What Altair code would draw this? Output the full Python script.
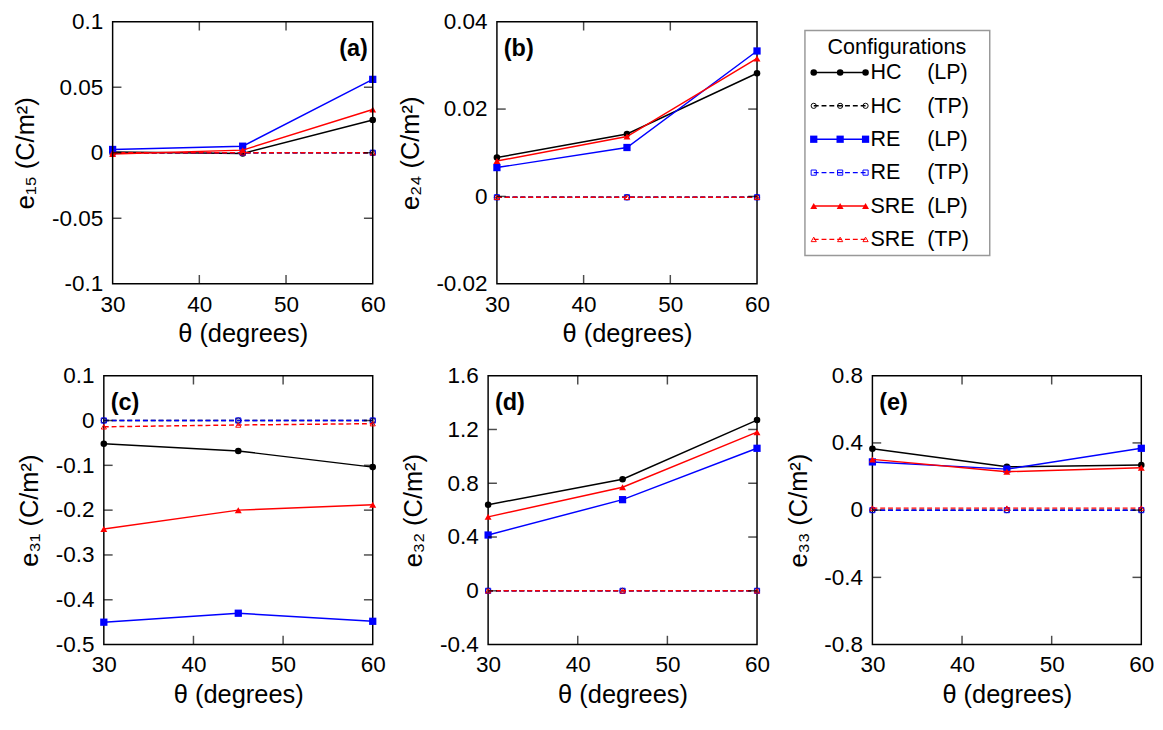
import altair as alt
import pandas as pd

# ---------------- data ----------------
theta = [30, 45, 60]
series_names = ["HC (LP)", "HC (TP)", "RE (LP)", "RE (TP)", "SRE (LP)", "SRE (TP)"]

a_HC_LP = [0.0005, -0.0005, 0.025]
a_HC_TP = [0.0, 0.0, 0.0]
a_RE_LP = [0.0025, 0.005, 0.056]
a_RE_TP = [0.0, 0.0, 0.0]
a_SRE_LP = [-0.001, 0.002, 0.033]
a_SRE_TP = [0.0, 0.0, 0.0]

b_HC_LP = [0.0089, 0.0143, 0.0282]
b_HC_TP = [-0.0002, -0.0002, -0.0002]
b_RE_LP = [0.0066, 0.0112, 0.0333]
b_RE_TP = [-0.0002, -0.0002, -0.0002]
b_SRE_LP = [0.0081, 0.0137, 0.0316]
b_SRE_TP = [-0.0002, -0.0002, -0.0002]

c_HC_LP = [-0.052, -0.068, -0.104]
c_HC_TP = [0.0, 0.0, 0.0]
c_RE_LP = [-0.45, -0.43, -0.448]
c_RE_TP = [0.0, 0.0, 0.0]
c_SRE_LP = [-0.242, -0.2, -0.188]
c_SRE_TP = [-0.014, -0.01, -0.007]

d_HC_LP = [0.64, 0.83, 1.27]
d_HC_TP = [0.0, 0.0, 0.0]
d_RE_LP = [0.415, 0.678, 1.06]
d_RE_TP = [0.0, 0.0, 0.0]
d_SRE_LP = [0.55, 0.77, 1.18]
d_SRE_TP = [0.0, 0.0, 0.0]

e_HC_LP = [0.365, 0.258, 0.268]
e_HC_TP = [0.0, 0.0, 0.0]
e_RE_LP = [0.287, 0.244, 0.368]
e_RE_TP = [0.0, 0.0, 0.0]
e_SRE_LP = [0.302, 0.229, 0.252]
e_SRE_TP = [0.012, 0.012, 0.012]

x_ticks = [30, 40, 50, 60]
a_yticks = [-0.1, -0.05, 0, 0.05, 0.1]
b_yticks = [-0.02, 0, 0.02, 0.04]
c_yticks = [-0.5, -0.4, -0.3, -0.2, -0.1, 0, 0.1]
d_yticks = [-0.4, 0, 0.4, 0.8, 1.2, 1.6]
e_yticks = [-0.8, -0.4, 0, 0.4, 0.8]

legend_names = ["HC", "HC", "RE", "RE", "SRE", "SRE"]
legend_tags = ["(LP)", "(TP)", "(LP)", "(TP)", "(LP)", "(TP)"]

# ---------------- style ----------------
FONT = "Liberation Sans"
LABEL_SIZE = 23
TITLE_SIZE = 26
LEG_SIZE = 22
COLORS = {"HC": "#000000", "RE": "#0000ff", "SRE": "#ff0000"}
SHAPES = {"HC": "circle", "RE": "square", "SRE": "triangle-up"}
LP_SIZE = {"HC": 45, "RE": 55, "SRE": 50}
TP_SIZE = 28
DASH = [5, 3]


def series_layers(vals_by_series, xenc, yenc):
    layers = []
    for name in series_names:
        base, kind = name.split(" ")
        vals = vals_by_series[name]
        df = pd.DataFrame({"theta": theta, "value": vals})
        col = COLORS[base]
        if kind == "(LP)":
            line = alt.Chart(df).mark_line(color=col, strokeWidth=1.5)
            pts = alt.Chart(df).mark_point(shape=SHAPES[base], filled=True, color=col,
                                           size=LP_SIZE[base], opacity=1)
        else:
            line = alt.Chart(df).mark_line(color=col, strokeWidth=1.5, strokeDash=DASH)
            pts = alt.Chart(df).mark_point(shape=SHAPES[base], filled=False, color=col,
                                           size=TP_SIZE, opacity=1, strokeWidth=1)
        layers.append(line.encode(x=xenc, y=yenc))
        layers.append(pts.encode(x=xenc, y=yenc))
    return layers


def make_panel(vals_by_series, ydom, yticks, ytitle, tag, tag_right, w, h, lead=0):
    # lead: blank pixels left of the frame (frame drawn as a rect through the scales)
    xscale = alt.Scale(domain=[30, 60], nice=False, zero=False)
    if lead:
        xscale = alt.Scale(domain=[30, 60], nice=False, zero=False, range=[lead, w])
    xenc = alt.X("theta:Q", scale=xscale,
                 axis=alt.Axis(values=x_ticks, title="θ (degrees)",
                               labelExpr="'' + datum.value"))
    yaxis = alt.Axis(values=yticks, title=ytitle, labelExpr="'' + datum.value")
    if lead:
        yaxis = alt.Axis(values=yticks, title=ytitle, labelExpr="'' + datum.value",
                         offset=-lead)
    yenc = alt.Y("value:Q", scale=alt.Scale(domain=ydom, nice=False, zero=False), axis=yaxis)
    layers = series_layers(vals_by_series, xenc, yenc)

    yin = yticks[1:-1]
    xin = x_ticks[1:-1]
    tick_style = dict(color="black", thickness=1.5, size=9)
    left = alt.Chart(pd.DataFrame({"theta": [30] * len(yin), "value": yin})).mark_tick(
        orient="horizontal", xOffset=4.5, **tick_style).encode(x=xenc, y=yenc)
    right = alt.Chart(pd.DataFrame({"theta": [60] * len(yin), "value": yin})).mark_tick(
        orient="horizontal", xOffset=-4.5, **tick_style).encode(x=xenc, y=yenc)
    top = alt.Chart(pd.DataFrame({"theta": xin, "value": [ydom[1]] * len(xin)})).mark_tick(
        orient="vertical", yOffset=4.5, **tick_style).encode(x=xenc, y=yenc)
    bottom = alt.Chart(pd.DataFrame({"theta": xin, "value": [ydom[0]] * len(xin)})).mark_tick(
        orient="vertical", yOffset=-4.5, **tick_style).encode(x=xenc, y=yenc)
    layers += [left, right, top, bottom]

    if lead:
        frame = alt.Chart(pd.DataFrame({"theta": [30], "theta2": [60],
                                        "value": [ydom[0]], "value2": [ydom[1]]})).mark_rect(
            fillOpacity=0, stroke="black", strokeWidth=1.5
        ).encode(x=xenc, x2="theta2:Q", y=yenc, y2="value2:Q")
        layers.append(frame)

    lab = alt.Chart(pd.DataFrame({"t": [tag]})).mark_text(
        font=FONT, fontSize=24, fontWeight="bold", color="black",
        align="right" if tag_right else "left", baseline="middle"
    ).encode(text="t:N", x=alt.value(w - 5 if tag_right else 7), y=alt.value(28))
    layers.append(lab)
    ch = alt.layer(*layers).properties(width=w, height=h)
    if lead:
        ch = ch.properties(view=alt.ViewBackground(strokeOpacity=0))
    return ch


def vals(prefix):
    g = globals()
    return {
        "HC (LP)": g[prefix + "_HC_LP"], "HC (TP)": g[prefix + "_HC_TP"],
        "RE (LP)": g[prefix + "_RE_LP"], "RE (TP)": g[prefix + "_RE_TP"],
        "SRE (LP)": g[prefix + "_SRE_LP"], "SRE (TP)": g[prefix + "_SRE_TP"],
    }


pa = make_panel(vals("a"), [-0.1, 0.1], a_yticks, "e₁₅ (C/m²)", "(a)", True, 275, 268, lead=9)
pb = make_panel(vals("b"), [-0.02, 0.04], b_yticks, "e₂₄ (C/m²)", "(b)", False, 266, 268)
pc = make_panel(vals("c"), [-0.5, 0.1], c_yticks, "e₃₁ (C/m²)", "(c)", False, 275, 275)
pd_ = make_panel(vals("d"), [-0.4, 1.6], d_yticks, "e₃₂ (C/m²)", "(d)", False, 275, 275)
pe = make_panel(vals("e"), [-0.8, 0.8], e_yticks, "e₃₃ (C/m²)", "(e)", False, 275, 275)

# ---------------- legend panel ----------------
LEG_TOP = 9
yleg = alt.Y("series:N", scale=alt.Scale(type="point", domain=series_names,
                                         padding=1.275, align=0.76), axis=None)
leg_layers = [
    alt.Chart(pd.DataFrame({"s": [0]})).mark_rect(
        fillOpacity=0, stroke="#999999", strokeWidth=1.5
    ).encode(x=alt.value(0), x2=alt.value(189), y=alt.value(LEG_TOP), y2=alt.value(LEG_TOP + 230))
]
for name in series_names:
    base, kind = name.split(" ")
    df1 = pd.DataFrame({"series": [name]})
    col = COLORS[base]
    if kind == "(LP)":
        rule = alt.Chart(df1).mark_rule(color=col, strokeWidth=1.5)
        pmark = dict(shape=SHAPES[base], filled=True, color=col, size=LP_SIZE[base], opacity=1)
    else:
        rule = alt.Chart(df1).mark_rule(color=col, strokeWidth=1.5, strokeDash=DASH)
        pmark = dict(shape=SHAPES[base], filled=False, color=col, size=TP_SIZE, opacity=1,
                     strokeWidth=1)
    leg_layers.append(rule.encode(y=yleg, x=alt.value(9), x2=alt.value(62)))
    for xp in (9, 36, 62):
        leg_layers.append(alt.Chart(df1).mark_point(**pmark).encode(y=yleg, x=alt.value(xp)))

leg_df = pd.DataFrame({"series": series_names, "name": legend_names, "tag": legend_tags})
leg_layers.append(alt.Chart(leg_df).mark_text(
    font=FONT, fontSize=LEG_SIZE, align="left", baseline="middle", color="black"
).encode(y=yleg, x=alt.value(67), text="name:N"))
leg_layers.append(alt.Chart(leg_df).mark_text(
    font=FONT, fontSize=LEG_SIZE, align="left", baseline="middle", color="black"
).encode(y=yleg, x=alt.value(125), text="tag:N"))
leg_layers.append(alt.Chart(pd.DataFrame({"t": ["Configurations"]})).mark_text(
    font=FONT, fontSize=LEG_SIZE, align="center", baseline="middle", color="black"
).encode(text="t:N", x=alt.value(94), y=alt.value(LEG_TOP + 17)))

legend = alt.layer(*leg_layers).properties(
    width=189, height=LEG_TOP + 230,
    view=alt.ViewBackground(strokeOpacity=0),
)

top_row = alt.hconcat(alt.hconcat(pa, pb, spacing=11), legend, spacing=34)
bottom_row = alt.hconcat(pc, pd_, pe, spacing=14)

chart = alt.vconcat(top_row, bottom_row, spacing=17).properties(
    padding={"left": 5, "top": -6, "right": 0, "bottom": 0}
).configure_view(
    stroke="black", strokeWidth=1.5
).configure_axis(
    labelFont=FONT, labelFontSize=LABEL_SIZE, labelColor="black",
    titleFont=FONT, titleFontSize=TITLE_SIZE, titleFontWeight="normal", titleColor="black",
    ticks=False, domain=False, grid=False, labelPadding=10,
    labelFlush=False, labelOverlap=False
).configure_axisY(
    titlePadding=13
).configure_axisX(
    titlePadding=5
)

chart.save("out.html", embed_options={"renderer": "svg", "actions": False})
